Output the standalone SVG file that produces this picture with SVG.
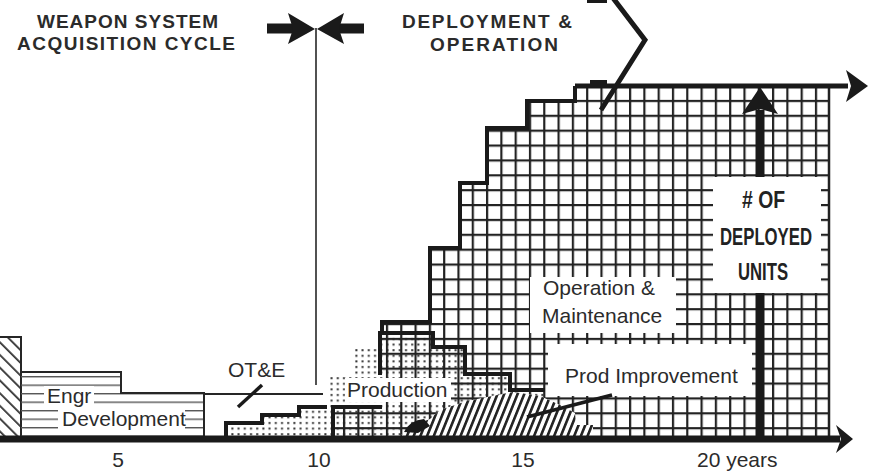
<svg xmlns="http://www.w3.org/2000/svg" width="869" height="471" viewBox="0 0 869 471">
  <style>
    .lbl { font-family: "Liberation Sans", Arial, sans-serif; font-size: 21px; fill: #2b2b2b; }
    .ttl { font-family: "Liberation Sans", Arial, sans-serif; font-size: 19px; font-weight: bold; fill: #2b2b2b; }
    .cond { font-family: "Liberation Sans", Arial, sans-serif; font-size: 24px; font-weight: bold; fill: #222; }
    .thin { fill: none; stroke: #262626; stroke-width: 2; }
    .heavy { fill: none; stroke: #1a1a1a; stroke-width: 4; stroke-linejoin: miter; }
    .ink { fill: #1a1a1a; }
  </style>
  <defs>
    <pattern id="grid" patternUnits="userSpaceOnUse" x="486" y="85" width="14.3" height="14.875">
      <rect x="0" y="0" width="14.3" height="2.2" fill="#222"/>
      <rect x="0" y="0" width="2.2" height="14.875" fill="#222"/>
    </pattern>
    <pattern id="dots" patternUnits="userSpaceOnUse" width="6.2" height="5.6">
      <rect x="2" y="2" width="2" height="2" fill="#333"/>
    </pattern>
    <pattern id="hlines" patternUnits="userSpaceOnUse" x="0" y="376" width="10" height="8.5">
      <rect x="0" y="0" width="10" height="1.4" fill="#555"/>
    </pattern>
    <pattern id="backslash" patternUnits="userSpaceOnUse" width="9" height="9" patternTransform="rotate(-45)">
      <rect x="0" y="0" width="1.8" height="9" fill="#333"/>
    </pattern>
    <pattern id="slash" patternUnits="userSpaceOnUse" width="6.2" height="10" patternTransform="rotate(22)">
      <rect x="0" y="0" width="2.6" height="10" fill="#222"/>
    </pattern>
  </defs>

  <rect width="869" height="471" fill="#fff"/>

  <!-- early phases -->
  <g id="concept">
    <rect x="0" y="337" width="21" height="101" fill="url(#backslash)"/>
    <path class="thin" d="M0,337 H21 V438"/>
  </g>

  <g id="engr-development">
    <path d="M21,438 V372 H121 V393 H204 V438 Z" fill="url(#hlines)"/>
    <path class="thin" d="M21,372 H121 V393 H204 V438"/>
    <rect x="44" y="386" width="50" height="21" fill="#fff"/>
    <rect x="58" y="409" width="127" height="22" fill="#fff"/>
    <text class="lbl" x="47" y="403" font-size="20">Engr</text>
    <text class="lbl" x="62" y="426" font-size="20">Development</text>
  </g>

  <g id="ote">
    <path class="thin" d="M204,394 H323"/>
    <path d="M238,407 L262,385" stroke="#1a1a1a" stroke-width="3.5"/>
    <text class="lbl" x="228" y="377">OT&amp;E</text>
  </g>

  <!-- production (dotted) -->
  <g id="production">
    <path d="M226,438 V423 H262 V415 H299 V407 H327 V375 H352 V349 H380 V333 H433 V347 H465 V374 H510 V390 H545 V438 Z" fill="#fff"/>
    <path d="M226,438 V423 H262 V415 H299 V407 H327 V375 H352 V349 H380 V333 H433 V347 H465 V374 H510 V390 H545 V438 Z" fill="url(#dots)"/>
  </g>

  <!-- operation & maintenance (grid) -->
  <g id="operation-maintenance">
    <path d="M333,438 V407 H382 V322 H430 V248 H460 V183 H487 V128 H527 V101 H575 V86 H830 V438 Z" fill="url(#grid)"/>
    <rect x="530" y="277" width="146" height="56" fill="#fff"/>
    <rect x="548" y="344" width="204" height="52" fill="#fff"/>
    <rect x="713" y="177" width="108" height="116" fill="#fff"/>
    <path class="heavy" d="M382,333 V322 H430 V248 H460 V183 H487 V128 H527 V101 H575 V86"/>
    <path d="M829,86 V436" stroke="#222" stroke-width="2.5"/>
    <rect x="590" y="80" width="17" height="7" class="ink"/>
    <text class="lbl" x="543" y="295">Operation &amp;</text>
    <text class="lbl" x="542" y="323">Maintenance</text>
  </g>

  <!-- product improvement (hatched) -->
  <g id="prod-improvement">
    <path d="M400,436 L412,426 L430,419 L440,410 L467,401 L513,392 L540,396 L560,405 L575,413 L576,425 L593,425 V436 Z" fill="#fff"/>
    <path d="M400,436 L412,426 L430,419 L440,410 L467,401 L513,392 L540,396 L560,405 L575,413 L576,425 L593,425 V436 Z" fill="url(#slash)"/>
    <path d="M404,432 Q410,420 424,419 L430,426 L418,433 Z" class="ink"/>
    <path d="M527,417 L612,395" stroke="#1a1a1a" stroke-width="3.5"/>
    <text class="lbl" x="565" y="383">Prod Improvement</text>
  </g>

  <g id="production-outline">
    <path class="heavy" d="M226,438 V423 H262 V415 H299 V407 H327"/>
    <path class="heavy" d="M333,438 V407 H382"/>
    <path class="heavy" d="M380,375 V333 H433 V347 H465 V374 H510 V390 H545"/>
    <rect x="345" y="378" width="106" height="24" fill="#fff"/>
    <text class="lbl" x="347" y="397">Production</text>
  </g>

  <!-- deployed units marker -->
  <g id="deployed-units">
    <rect x="755.5" y="110" width="9" height="67" class="ink"/>
    <rect x="755.5" y="293" width="9" height="143" class="ink"/>
    <polygon points="760,87 778,114 760,109 742,114" class="ink"/>
    <text class="cond" x="742" y="208" textLength="43" lengthAdjust="spacingAndGlyphs">#  OF</text>
    <text class="cond" x="720" y="245" textLength="92" lengthAdjust="spacingAndGlyphs">DEPLOYED</text>
    <text class="cond" x="738" y="280" textLength="50" lengthAdjust="spacingAndGlyphs">UNITS</text>
  </g>

  <!-- connectors: axes, phase boundary, pointer -->
  <g id="connectors">
    <path d="M575,86 H848" stroke="#1a1a1a" stroke-width="5"/>
    <polygon points="846,70 868,86 846,102 851,86" class="ink"/>
    <path d="M0,439 H840" stroke="#1a1a1a" stroke-width="7"/>
    <polygon points="836,425 853,439 836,453 841,439" class="ink"/>
    <path d="M316,28 V385" stroke="#262626" stroke-width="1.6"/>
    <rect x="267" y="23.5" width="26" height="10" class="ink"/>
    <polygon points="288,13 315,29 288,44 293,29" class="ink"/>
    <rect x="339" y="23.5" width="25" height="10" class="ink"/>
    <polygon points="344,13 317,29 344,44 339,29" class="ink"/>
    <polyline points="613,-2 645,40 601,110" fill="none" stroke="#1a1a1a" stroke-width="5"/>
    <rect x="587" y="-3" width="20" height="6" class="ink"/>
  </g>

  <!-- titles and axis labels -->
  <g id="titles">
    <text class="ttl" x="37" y="28" textLength="181" lengthAdjust="spacing">WEAPON SYSTEM</text>
    <text class="ttl" x="17" y="50" textLength="218" lengthAdjust="spacing">ACQUISITION CYCLE</text>
    <text class="ttl" x="402" y="28" textLength="170" lengthAdjust="spacing">DEPLOYMENT &amp;</text>
    <text class="ttl" x="430" y="51" textLength="128" lengthAdjust="spacing">OPERATION</text>
  </g>
  <g id="axis-labels">
    <text class="lbl" x="118" y="467" text-anchor="middle">5</text>
    <text class="lbl" x="319" y="467" text-anchor="middle">10</text>
    <text class="lbl" x="523" y="467" text-anchor="middle">15</text>
    <text class="lbl" x="697" y="467">20 years</text>
  </g>
</svg>
